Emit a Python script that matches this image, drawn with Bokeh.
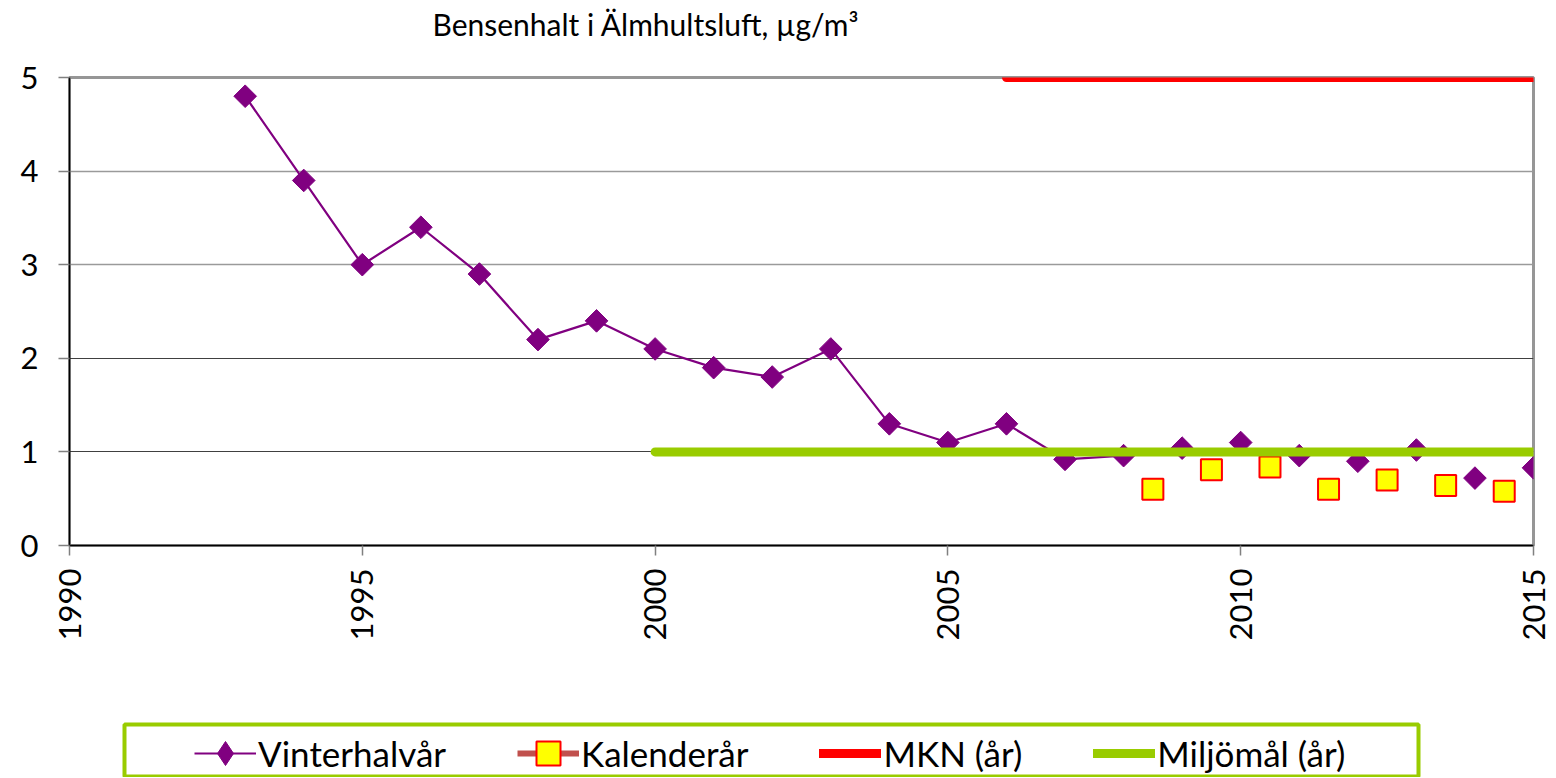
import math
from bokeh.plotting import figure
from bokeh.layouts import column, row
from bokeh.models import Legend, LegendItem, FixedTicker, Grid, Title, Range1d
from bokeh.embed import file_html
from bokeh.resources import INLINE

# ---------------- data ----------------
title_text = "Bensenhalt i Älmhultsluft, µg/m³"
series_names = ["Vinterhalvår", "Kalenderår", "MKN (år)", "Miljömål (år)"]

vinter_years = list(range(1993, 2016))
vinter_values = [4.8, 3.9, 3.0, 3.4, 2.9, 2.2, 2.4, 2.1, 1.9, 1.8, 2.1, 1.3,
                 1.1, 1.3, 0.92, 0.96, 1.04, 1.10, 0.96, 0.90, 1.02, 0.72, 0.83]
vinter_line_last_year = 2008   # connecting line only drawn up to this year

kalender_years = [2008.5, 2009.5, 2010.5, 2011.5, 2012.5, 2013.5, 2014.5]
kalender_values = [0.60, 0.81, 0.84, 0.60, 0.70, 0.64, 0.58]

mkn_years = [2006, 2015]
mkn_values = [5, 5]

miljomal_years = [2000, 2015]
miljomal_values = [1, 1]

x_ticks = [1990, 1995, 2000, 2005, 2010, 2015]
y_ticks = [0, 1, 2, 3, 4, 5]

FONT = "Lato"
PURPLE = "#800080"
YELLOW = "#FFFF00"
RED = "#FF0000"
GREEN = "#99CC00"
KAL_LINE = "#C0504D"

# ---------------- main chart ----------------
p = figure(width=1552, height=700,
           min_border_left=69, min_border_right=19, min_border_top=77, min_border_bottom=155,
           x_range=Range1d(1990, 2015), y_range=Range1d(0, 5),
           output_backend="svg", toolbar_location=None)
p.background_fill_color = "white"
p.border_fill_color = "white"
p.outline_line_color = "#969696"
p.outline_line_width = 3

p.title = Title(text=title_text + "\n", align="left", offset=363,
                text_font=FONT, text_font_size="30px", text_font_style="normal",
                text_color="black", standoff=0)

p.xaxis.ticker = FixedTicker(ticks=x_ticks)
p.yaxis.ticker = FixedTicker(ticks=y_ticks)
for ax in (p.xaxis[0], p.yaxis[0]):
    ax.axis_line_color = "black"
    ax.axis_line_width = 1.5
    ax.major_tick_line_color = "#808080"
    ax.major_tick_line_width = 1.5
    ax.major_tick_in = 0
    ax.minor_tick_in = 0
    ax.minor_tick_out = 0
    ax.major_label_text_font = FONT
    ax.major_label_text_font_size = "31px"
    ax.major_label_text_color = "black"
p.yaxis.major_tick_out = 11
p.yaxis.major_label_standoff = 20
p.xaxis.major_tick_out = 10
p.xaxis.major_label_standoff = 13
p.xaxis.major_label_orientation = math.pi / 2

p.xgrid.visible = False
p.ygrid.visible = False
p.add_layout(Grid(dimension=1, ticker=FixedTicker(ticks=[1, 2]),
                  grid_line_color="#404040", grid_line_width=1))
p.add_layout(Grid(dimension=1, ticker=FixedTicker(ticks=[3, 4]),
                  grid_line_color="#9a9a9a", grid_line_width=1.5))

n_line = vinter_years.index(vinter_line_last_year) + 1
p.line(vinter_years[:n_line], vinter_values[:n_line], line_color=PURPLE, line_width=2.2)
p.scatter(vinter_years, vinter_values, marker="square", angle=math.pi / 4,
          size=16, fill_color=PURPLE, line_color=PURPLE)
p.scatter(kalender_years, kalender_values, marker="square", size=21,
          fill_color=YELLOW, line_color=RED, line_width=2)
p.line(mkn_years, mkn_values, line_color=RED, line_width=9, line_cap="round")
p.line(miljomal_years, miljomal_values, line_color=GREEN, line_width=9, line_cap="round")

# ---------------- legend strip (green framed box) ----------------
pl = figure(width=1552, height=77,
            min_border_left=124, min_border_right=134, min_border_top=24, min_border_bottom=1,
            x_range=Range1d(0, 1), y_range=Range1d(0, 1),
            x_axis_location=None, y_axis_location=None,
            output_backend="svg", toolbar_location=None)
pl.grid.visible = False
pl.background_fill_color = "white"
pl.border_fill_color = "white"
pl.outline_line_color = GREEN
pl.outline_line_width = 4

# legend keys (same series; their data lie outside this strip's ranges)
k_vline = pl.line(vinter_years, vinter_values, line_color=PURPLE, line_width=2.2)
k_vpts = pl.scatter(vinter_years, vinter_values, marker="diamond",
                    fill_color=PURPLE, line_color=PURPLE)
k_kline = pl.line(kalender_years, kalender_values, line_color=KAL_LINE, line_width=6)
k_kpts = pl.scatter(kalender_years, kalender_values, marker="square",
                    fill_color=YELLOW, line_color=RED, line_width=2)
k_mkn = pl.line(mkn_years, mkn_values, line_color=RED, line_width=9, line_cap="round")
k_mil = pl.line(miljomal_years, miljomal_values, line_color=GREEN, line_width=9,
                line_cap="round")

legend = Legend(items=[
    LegendItem(label=series_names[0], renderers=[k_vline, k_vpts]),
    LegendItem(label=series_names[1], renderers=[k_kline, k_kpts]),
    LegendItem(label=series_names[2], renderers=[k_mkn]),
    LegendItem(label=series_names[3], renderers=[k_mil]),
], orientation="horizontal", location=(70, -7),
    label_text_font=FONT, label_text_font_size="35px", label_text_color="black",
    glyph_width=62, glyph_height=60, label_standoff=2, spacing=71, padding=0,
    border_line_color=None, background_fill_alpha=0, margin=0)
pl.add_layout(legend)

layout = column(row(p), row(pl), spacing=0)
open("out.html", "w").write(file_html(layout, INLINE))
